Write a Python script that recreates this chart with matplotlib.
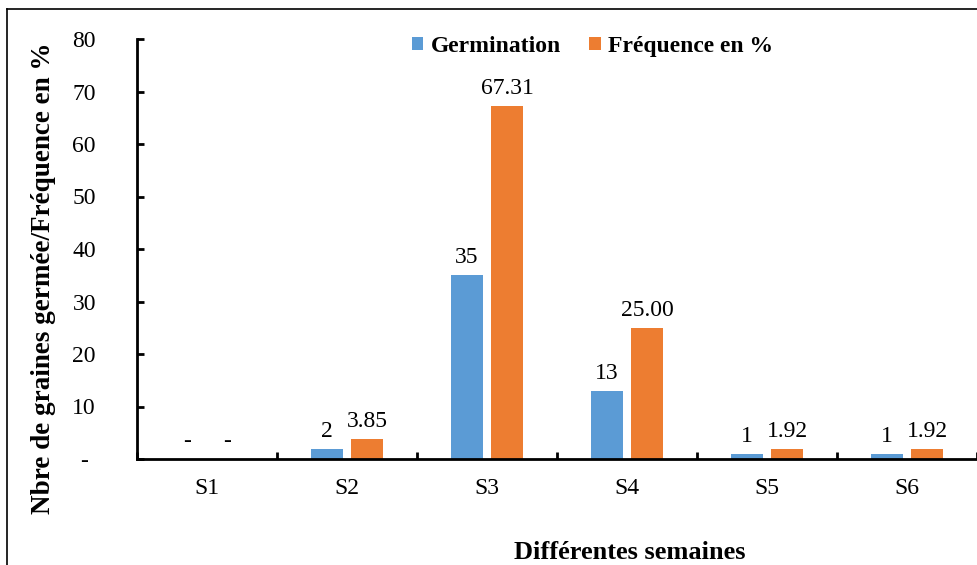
import numpy as np
import matplotlib
matplotlib.use("Agg")
from matplotlib import pylab as plt
from matplotlib.lines import Line2D

semaines = ["S1", "S2", "S3", "S4", "S5", "S6"]
germination = [0, 2, 35, 13, 1, 1]
frequence = [0, 3.85, 67.31, 25.00, 1.92, 1.92]
yticks = [0, 10, 20, 30, 40, 50, 60, 70, 80]

BLEU = "#5B9BD5"
ORANGE = "#ED7D31"


def etiquette(v, fmt):
    """valeur nulle affichée comme un tiret"""
    if v == 0:
        return "-"
    return fmt.format(v)


def main():
    plt.rcParams["font.family"] = ["Liberation Serif", "DejaVu Serif"]

    fig = plt.figure(figsize=(9.78, 5.65), dpi=100)
    ax = fig.add_axes([137/978, 1-459/565, 840/978, 420/565])

    x = np.arange(len(semaines))
    w = 0.23
    dx = 0.143
    b1 = ax.bar(x-dx, germination, w, color=BLEU, label="Germination")
    b2 = ax.bar(x+dx, frequence, w, color=ORANGE, label="Fréquence en %")

    # étiquettes de données
    for rect, v in zip(b1, germination):
        ax.annotate(etiquette(v, "{:d}"), (rect.get_x()+rect.get_width()/2, v),
                    xytext=(0, 5), textcoords="offset points",
                    ha="center", va="bottom", fontsize=17)
    for rect, v in zip(b2, frequence):
        ax.annotate(etiquette(v, "{:.2f}"), (rect.get_x()+rect.get_width()/2, v),
                    xytext=(0, 5), textcoords="offset points",
                    ha="center", va="bottom", fontsize=17)

    ax.set_xlim(-0.5, len(semaines)-0.5)
    ax.set_ylim(0, 80)

    # axe y
    ax.set_yticks(yticks)
    ax.set_yticklabels([etiquette(v, "{:d}") for v in yticks])
    ax.tick_params(axis="y", direction="in", length=5, width=2, pad=38, labelsize=17)
    for lab in ax.get_yticklabels():
        lab.set_horizontalalignment("center")

    # axe x : traits aux limites, noms au centre
    ax.set_xticks(np.arange(len(semaines)+1)-0.5)
    ax.set_xticklabels([])
    ax.set_xticks(x, minor=True)
    ax.set_xticklabels(semaines, minor=True)
    ax.tick_params(axis="x", which="major", direction="in", length=5, width=2)
    ax.tick_params(axis="x", which="minor", length=0, pad=14, labelsize=17)

    for s in ["top", "right"]:
        ax.spines[s].set_visible(False)
    for s in ["left", "bottom"]:
        ax.spines[s].set_linewidth(2)

    ax.set_ylabel("Nbre de graines germée/Fréquence en %", fontsize=19.5, fontweight="bold")
    ax.yaxis.set_label_coords(-0.096, 0.43)
    ax.set_xlabel("Différentes semaines", fontsize=19, fontweight="bold")
    ax.xaxis.set_label_coords(0.587, -0.195)

    ax.legend(loc="center", bbox_to_anchor=(0.542, 0.983), ncol=2,
              frameon=False, handlelength=0.5, handleheight=0.5,
              handletextpad=0.3, columnspacing=1.2,
              prop={"size": 17, "weight": "bold"})

    # cadre autour de la figure
    fig.add_artist(Line2D([7/978, 7/978], [0, 1-9/565], color="black", lw=1.2))
    fig.add_artist(Line2D([7/978, 1], [1-9/565, 1-9/565], color="black", lw=1.2))

    fig.savefig("out.png", dpi=100)


if __name__ == "__main__":
    main()
